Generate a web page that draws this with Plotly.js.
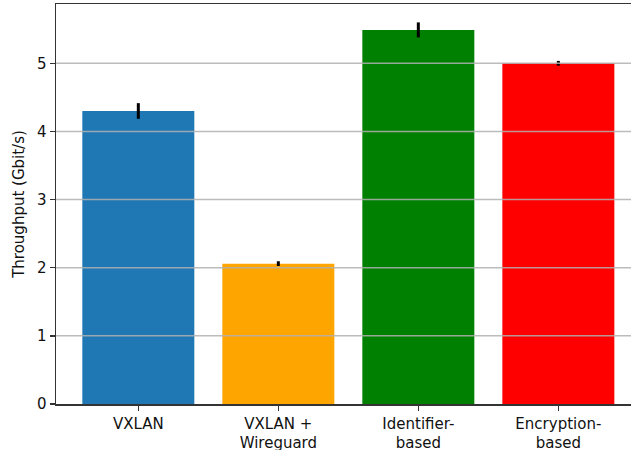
<!DOCTYPE html>
<html>
<head>
<meta charset="utf-8">
<script src="https://cdn.plot.ly/plotly-3.0.1.min.js"></script>
<style>
  html, body { margin: 0; padding: 0; background: #fff; }
  #chart { width: 631px; height: 450px; }
</style>
</head>
<body>
<div id="chart"></div>
<script>
// Throughput per overlay approach, mean with spread
const categories = ["VXLAN", "VXLAN +<br>Wireguard", "Identifier-<br>based", "Encryption-<br>based"];
const throughput = [4.30, 2.06, 5.49, 5.00];
const spread = [0.115, 0.035, 0.11, 0.035];
const barColors = ["#1f77b4", "#ffa500", "#008000", "#ff0000"];
const yTicks = [0, 1, 2, 3, 4, 5];

const trace = {
  type: "bar",
  x: categories,
  y: throughput,
  width: 0.8,
  marker: { color: barColors, line: { width: 0 } },
  error_y: {
    type: "data",
    array: spread,
    visible: true,
    color: "#000",
    thickness: 3,
    width: 0
  },
  hoverinfo: "x+y"
};

// horizontal grid drawn over the bars
const gridShapes = yTicks.filter(v => v > 0).map(v => ({
  type: "line",
  xref: "paper", x0: 0, x1: 1,
  yref: "y", y0: v, y1: v,
  layer: "above",
  line: { color: "rgba(176,176,176,0.85)", width: 1.5 }
}));

const font = { family: "DejaVu Sans, sans-serif", size: 15, color: "#111" };

const layout = {
  width: 631,
  height: 450,
  margin: { l: 56, r: 0, t: 4, b: 46 },
  paper_bgcolor: "#fff",
  plot_bgcolor: "#fff",
  font: font,
  showlegend: false,
  bargap: 0.2,
  xaxis: {
    type: "category",
    range: [-0.588, 3.519],
    showgrid: false,
    showline: true,
    mirror: true,
    linecolor: "#333",
    linewidth: 1.5,
    ticks: "outside",
    ticklen: 5,
    tickwidth: 1.5,
    tickcolor: "#333",
    tickfont: font
  },
  yaxis: {
    range: [0, 5.87],
    tickvals: yTicks,
    ticktext: yTicks.map(String),
    showgrid: false,
    zeroline: false,
    showline: true,
    linecolor: "#333",
    linewidth: 1.5,
    ticks: "outside",
    ticklen: 5,
    tickwidth: 1.5,
    tickcolor: "#333",
    tickfont: font,
    automargin: false,
    title: { text: "Throughput (Gbit/s)", font: font, standoff: 8 }
  },
  shapes: gridShapes
};

Plotly.newPlot("chart", [trace], layout, { displayModeBar: false, staticPlot: true });
</script>
</body>
</html>
